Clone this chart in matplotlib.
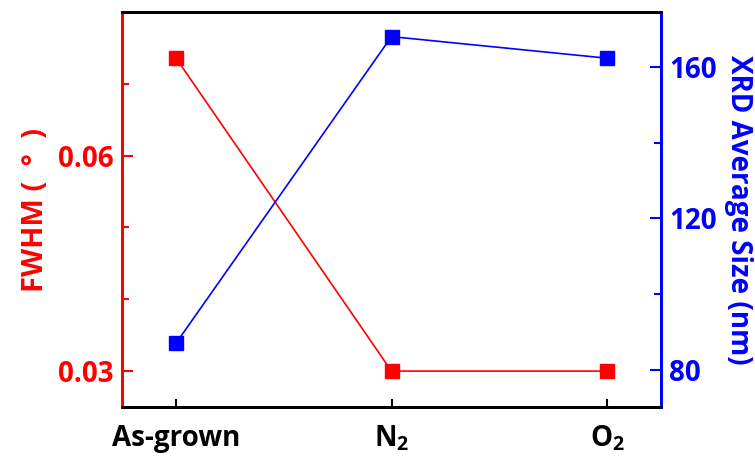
import matplotlib
matplotlib.use("Agg")
import matplotlib.pyplot as plt
from matplotlib.ticker import MultipleLocator, FixedLocator

plt.rcParams['font.family'] = ['Open Sans', 'DejaVu Sans']
plt.rcParams['font.weight'] = 'bold'
plt.rcParams['mathtext.default'] = 'regular'

# data
samples = ["As-grown", "N$_2$", "O$_2$"]
fwhm = [0.0736, 0.030, 0.030]
xrd_size = [87.0, 168.0, 162.3]

red = '#ff0000'
blue = '#0000ff'

fig = plt.figure(figsize=(7.55, 4.65), dpi=100)
ax = fig.add_axes([122 / 755, 1 - 407 / 465, (661 - 122) / 755, (407 - 12) / 465])
ax2 = ax.twinx()

x = list(range(len(samples)))
ax.plot(x, fwhm, color=red, lw=1.2, marker='s', ms=9.5, zorder=3)
ax2.plot(x, xrd_size, color=blue, lw=1.2, marker='s', ms=9.5, zorder=3)

ax.set_xlim(-0.25, 2.25)
ax.set_ylim(0.025, 0.08)
ax2.set_ylim(70.2, 174.5)

ax.set_xticks(x)
ax.set_xticklabels(samples, fontsize=20, fontweight='bold')
ax.yaxis.set_major_locator(FixedLocator([0.03, 0.06]))
ax.yaxis.set_minor_locator(FixedLocator([0.04, 0.05, 0.07]))
ax.yaxis.set_major_formatter(plt.FuncFormatter(lambda v, p: f"{v:.2f}"))
ax2.yaxis.set_major_locator(MultipleLocator(40))
ax2.yaxis.set_minor_locator(MultipleLocator(20))

ax.set_ylabel("FWHM (  °  )", color=red, fontsize=21, fontweight='bold', labelpad=6)
ax2.set_ylabel("XRD Average Size (nm)", color=blue, fontsize=20, fontweight='bold',
               rotation=270, labelpad=26)

for a in (ax, ax2):
    for s in a.spines.values():
        s.set_linewidth(2)
ax.spines['left'].set_color(red)
ax2.spines['left'].set_color(red)
ax2.spines['right'].set_color(blue)
ax.spines['right'].set_color(blue)

ax.tick_params(axis='x', direction='in', length=6, width=1.5, pad=12, colors='black')
ax.tick_params(axis='y', which='both', direction='in', width=1.5, colors=red,
               labelsize=20, pad=6)
ax.tick_params(axis='y', which='major', length=8)
ax.tick_params(axis='y', which='minor', length=5)
ax2.tick_params(axis='y', which='both', direction='in', width=1.5, colors=blue,
                labelsize=20, pad=6)
ax2.tick_params(axis='y', which='major', length=8)
ax2.tick_params(axis='y', which='minor', length=5)
for lab in ax.get_yticklabels() + ax2.get_yticklabels():
    lab.set_fontweight('bold')

fig.savefig("out.png", dpi=100)
